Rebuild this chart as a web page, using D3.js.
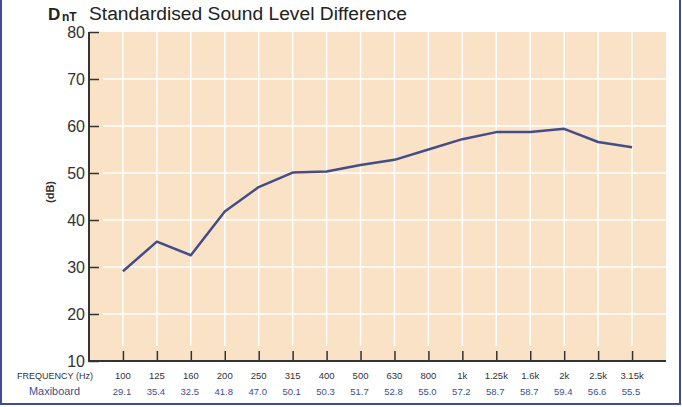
<!DOCTYPE html>
<html><head><meta charset="utf-8">
<script src="https://cdn.jsdelivr.net/npm/d3@7"></script>
<style>body{margin:0;background:#fff;}svg{display:block;font-family:"Liberation Sans",Arial,sans-serif;}</style>
</head><body><svg id="c" width="682" height="407"></svg>
<script>
const frequencies = ["100","125","160","200","250","315","400","500","630","800","1k","1.25k","1.6k","2k","2.5k","3.15k"];
const maxiboard = [29.1,35.4,32.5,41.8,47.0,50.1,50.3,51.7,52.8,55.0,57.2,58.7,58.7,59.4,56.6,55.5];
const yTicks = [10,20,30,40,50,60,70,80];

const svg = d3.select("#c");
const x = d3.scaleLinear().domain([-1,16]).range([89,666]);
const y = d3.scaleLinear().domain([10,80]).range([361,32]);
const fill = "#f9e2c6", lineCol = "#454d88", axisCol = "#333";

// frame
svg.append("rect").attr("x",1).attr("y",-3).attr("width",679).attr("height",407)
  .attr("fill","none").attr("stroke","#3d4f8f").attr("stroke-width",2);

// plot bg
svg.append("rect").attr("x",x(-1)).attr("y",y(80)).attr("width",x(16)-x(-1)).attr("height",y(10)-y(80)).attr("fill",fill);

// grid
svg.append("g").selectAll("line").data(yTicks.filter(d=>d>10&&d<80)).join("line")
  .attr("x1",103).attr("x2",x(16)).attr("y1",d=>y(d)).attr("y2",d=>y(d))
  .attr("stroke","#fff").attr("stroke-width",1.5);
svg.append("g").selectAll("line").data(frequencies).join("line")
  .attr("x1",(d,i)=>x(i)).attr("x2",(d,i)=>x(i)).attr("y1",y(80)).attr("y2",346)
  .attr("stroke","#fff").attr("stroke-width",1.5);

// axes
const yAxis = d3.axisLeft(y).tickValues(yTicks).tickSize(-10).tickPadding(5).tickFormat(d3.format("d"));
const gy = svg.append("g").attr("transform",`translate(${x(-1)},0)`).call(yAxis);
gy.select(".domain").remove();
gy.selectAll(".tick line").attr("stroke",axisCol).attr("stroke-width",1.5);
gy.selectAll(".tick text").attr("font-size",16).attr("fill","#333").attr("dy","0.35em").attr("x",-4);
svg.append("line").attr("x1",x(-1)).attr("x2",x(-1)).attr("y1",y(80)).attr("y2",y(10)+1).attr("stroke",axisCol).attr("stroke-width",2);

const xAxis = d3.axisBottom(x).tickValues(d3.range(16)).tickSize(-10).tickFormat("");
const gx = svg.append("g").attr("transform",`translate(0,${y(10)})`).call(xAxis);
gx.select(".domain").remove();
gx.selectAll(".tick line").attr("stroke",axisCol).attr("stroke-width",1.5);
svg.append("line").attr("x1",x(-1)-1).attr("x2",x(16)).attr("y1",y(10)).attr("y2",y(10)).attr("stroke",axisCol).attr("stroke-width",2);

// line
svg.append("path").datum(maxiboard)
  .attr("d",d3.line().x((d,i)=>x(i)).y(d=>y(d)))
  .attr("fill","none").attr("stroke",lineCol).attr("stroke-width",2.5).attr("stroke-linejoin","round");

// title
svg.append("text").attr("x",48).attr("y",20).attr("fill","#222").attr("font-size",17).attr("font-weight","bold").text("D");
svg.append("text").attr("x",62).attr("y",21).attr("fill","#222").attr("font-size",12).attr("font-weight","bold").text("nT");
svg.append("text").attr("x",89).attr("y",20).attr("fill","#222").attr("font-size",18)
  .attr("textLength",318).attr("lengthAdjust","spacingAndGlyphs").text("Standardised Sound Level Difference");

// y label
svg.append("text").attr("transform","translate(54,192) rotate(-90)").attr("text-anchor","middle")
  .attr("font-size",11).attr("font-weight","bold").attr("fill","#333").text("(dB)");

// bottom table
svg.append("text").attr("x",17).attr("y",379).attr("font-size",9.5).attr("fill","#333")
  .attr("textLength",76).attr("lengthAdjust","spacingAndGlyphs").text("FREQUENCY (Hz)");
svg.append("g").selectAll("text").data(frequencies).join("text")
  .attr("x",(d,i)=>x(i)).attr("y",379).attr("text-anchor","middle").attr("font-size",9.5).attr("fill","#333").text(d=>d);
svg.append("text").attr("x",29).attr("y",395).attr("font-size",11.5).attr("fill","#3d4f8f")
  .attr("textLength",51).attr("lengthAdjust","spacingAndGlyphs").text("Maxiboard");
svg.append("g").selectAll("text").data(maxiboard).join("text")
  .attr("x",(d,i)=>x(i)-1).attr("y",395).attr("text-anchor","middle").attr("font-size",9.5).attr("fill","#3d4f8f").text(d=>d.toFixed(1));
</script></body></html>
